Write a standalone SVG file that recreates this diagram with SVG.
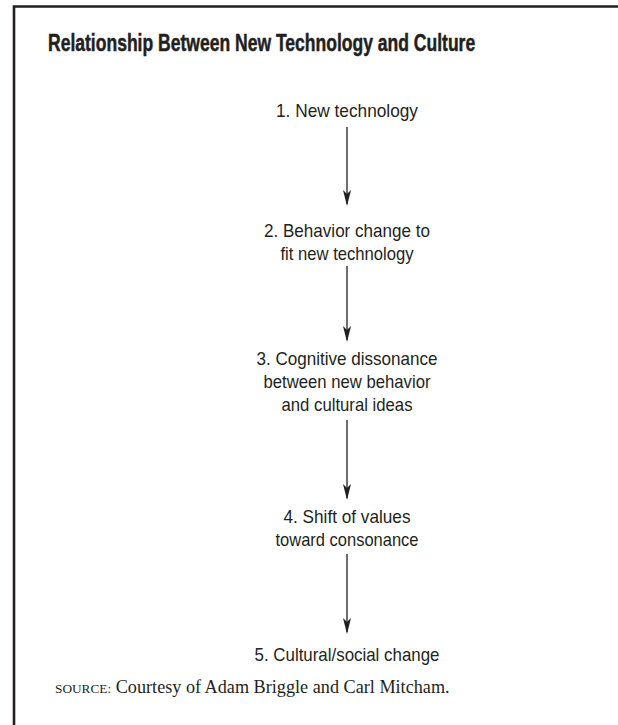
<svg xmlns="http://www.w3.org/2000/svg" width="618" height="725" viewBox="0 0 618 725">
<defs>
<style>
.n{font-family:"Liberation Sans",Arial,sans-serif;font-size:18.5px;fill:#231f20;text-anchor:middle}
.c{stroke:#231f20;stroke-width:1.3;fill:none}
.h{fill:#231f20}
</style>
</defs>
<rect width="618" height="725" fill="#fff"/>
<path d="M14,725 V6.5 H618" fill="none" stroke="#231f20" stroke-width="2.6"/>
<g id="title" transform="scale(0.8,1)"><text x="60" y="51" font-family="Liberation Sans,Arial,sans-serif" font-weight="bold" font-size="24" fill="#231f20" stroke="#231f20" stroke-width="0.5" textLength="534" lengthAdjust="spacingAndGlyphs">Relationship Between New Technology and Culture</text></g>
<g id="node1"><text class="n" x="347" y="117" textLength="142" lengthAdjust="spacingAndGlyphs">1.  New technology</text></g>
<g id="node2"><text class="n" x="347" y="237" textLength="166" lengthAdjust="spacingAndGlyphs">2.  Behavior change to</text><text class="n" x="347" y="260" textLength="133" lengthAdjust="spacingAndGlyphs">fit new technology</text></g>
<g id="node3"><text class="n" x="347" y="365" textLength="181" lengthAdjust="spacingAndGlyphs">3.  Cognitive dissonance</text><text class="n" x="347" y="388" textLength="167" lengthAdjust="spacingAndGlyphs">between new behavior</text><text class="n" x="347" y="411" textLength="131" lengthAdjust="spacingAndGlyphs">and cultural ideas</text></g>
<g id="node4"><text class="n" x="347" y="523" textLength="127" lengthAdjust="spacingAndGlyphs">4.  Shift of values</text><text class="n" x="347" y="546" textLength="143" lengthAdjust="spacingAndGlyphs">toward consonance</text></g>
<g id="node5"><text class="n" x="347" y="661" textLength="185" lengthAdjust="spacingAndGlyphs">5.  Cultural/social change</text></g>
<g id="connectors">
<path class="c" d="M347,127 V204"/><path class="h" d="M343,190 L347,206 L351,190 L347,194 Z"/>
<path class="c" d="M347,266 V340"/><path class="h" d="M343,326 L347,342 L351,326 L347,330 Z"/>
<path class="c" d="M347,420 V498"/><path class="h" d="M343,484 L347,500 L351,484 L347,488 Z"/>
<path class="c" d="M347,554 V632"/><path class="h" d="M343,618 L347,634 L351,618 L347,622 Z"/>
</g>
<text x="55" y="693" font-family="Liberation Serif,Times New Roman,serif" font-size="18.2" fill="#231f20"><tspan font-size="13.3">SOURCE:</tspan> Courtesy of Adam Briggle and Carl Mitcham.</text>
</svg>
